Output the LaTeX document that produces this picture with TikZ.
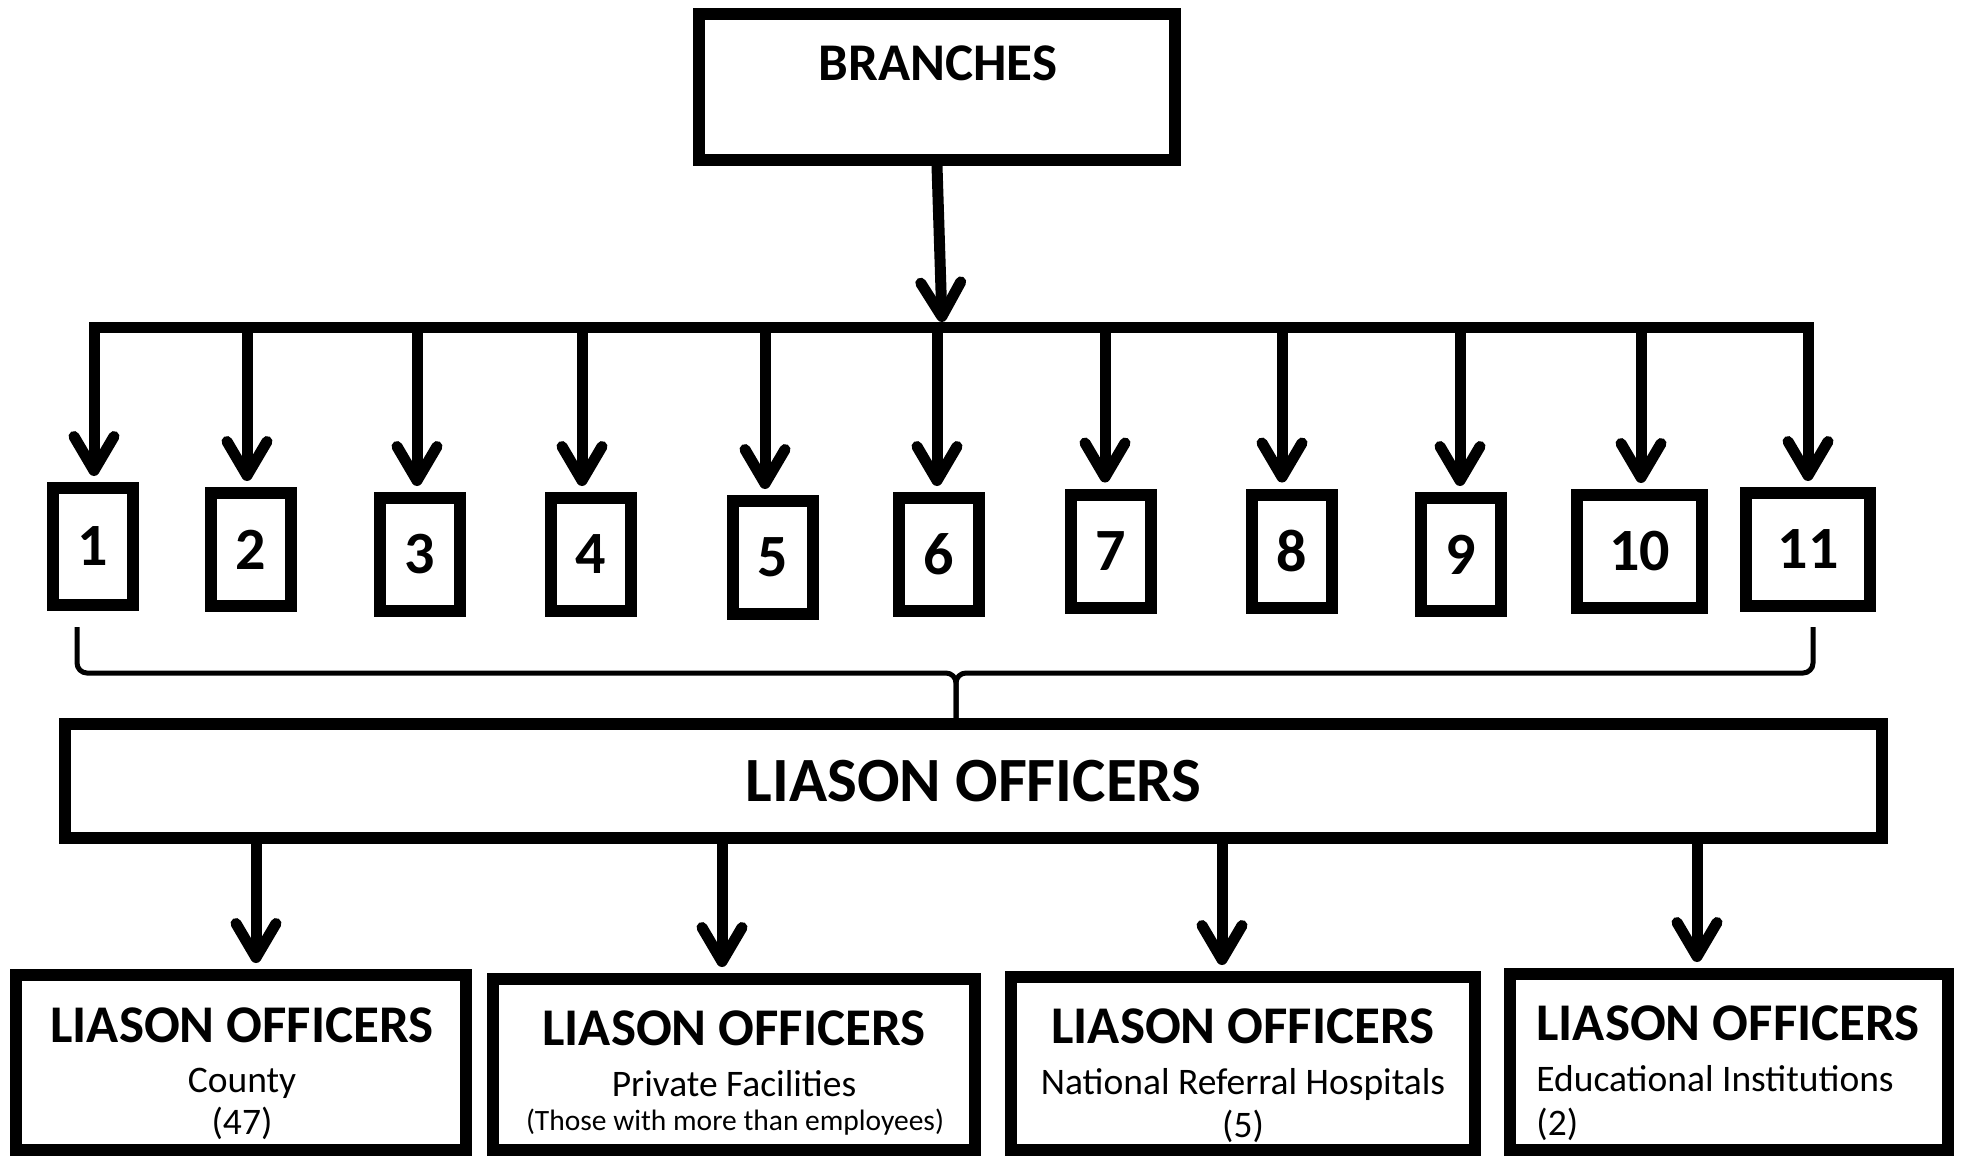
\documentclass[tikz,border=0pt]{standalone}
\usepackage{fontspec}
\setmainfont{Carlito}
\usetikzlibrary{positioning,arrows.meta}

\begin{document}
\begin{tikzpicture}[x=0.5pt,y=-0.5pt,
	tbox/.style={draw,rectangle,line width=6pt,inner sep=0pt},
	arr/.style={line width=5.5pt,shorten >=3pt,-{Straight Barb[length=17pt,width=20pt,round]}},
	headtxt/.style={font=\fontsize{26.5}{30}\selectfont\bfseries,inner sep=0pt,anchor=base},
	subtxt/.style={font=\fontsize{18.75}{22}\selectfont,inner sep=0pt,anchor=base}]
\useasboundingbox (0,0) rectangle (1962,1156);
\node[tbox,minimum width=238pt,minimum height=73pt] (branches) at (937,87) {};
\node[headtxt] (branchestxt) at (938,81) {BRANCHES};
\coordinate (hub) at (942,322);
\draw[arr,shorten >=0pt] (branches.south) -- (hub);
\foreach[count=\c] \x/\y/\w/\h/\a in {93/546.5/40/58.5/94,251/549.5/40/56.5/247,420/554.5/40/56.5/417,591/554.5/40/56.5/582,772.5/557.5/40/56.5/765,939/554.5/40/56.5/937,1111/551/40/56.5/1105,1291.5/551/40/56.5/1282,1461/554.5/40/56.5/1460,1639.5/551.5/62.5/56.5/1641,1808/549.5/62/56.5/1808}
{
	\node[tbox,minimum width=\w pt,minimum height=\h pt,font=\fontsize{30}{34}\selectfont\bfseries] (n\c) at (\x,\y) {\c};
	\coordinate (t\c) at (\a,327);
}
\draw[line width=5.5pt,line cap=rect] (t1)--(t11);
\foreach \c in {1,...,11}
	\draw[arr] (t\c)--(t\c |- n\c.north);
\node[tbox,minimum width=908.5pt,minimum height=57pt,font=\fontsize{31.5}{36}\selectfont\bfseries] (liason) at (973.5,781) {LIASON OFFICERS};
\coordinate (bl) at (77,627);
\coordinate (br) at (1813,627);
\coordinate (bm) at (956,673);
\draw[line width=2.5pt,rounded corners=5pt] (bl)--(bl |- bm)--(bm)--(bm |- liason.north);
\draw[line width=2.5pt,rounded corners=5pt] (br)--(br |- bm)--(bm)--(bm |- liason.north);
\foreach \n/\x/\y/\w/\h/\a in {county/241/1062.5/225/87.5/256,private/734/1064.5/241/85.5/722,national/1243/1063.5/232/86.5/1222,education/1729/1062/219/88/1697}
{
	\node[tbox,minimum width=\w pt,minimum height=\h pt] (\n) at (\x,\y) {};
	\coordinate (q\n) at (\a,0);
	\draw[arr] (liason.south -| q\n)--(\n.north -| q\n);
}
\foreach \n/\x/\y in {county/242/1042,private/734/1045,national/1243/1043,education/1728/1040}
	\node[headtxt] (\n h) at (\x,\y) {LIASON OFFICERS};
\node[subtxt] (countys) at (242,1092) {County};
\node[subtxt] (countyn) at (242,1134) {(47)};
\node[subtxt] (privates) at (734,1096) {Private Facilities};
\node[subtxt,font=\fontsize{14.75}{18}\selectfont] (privaten) at (735,1130) {(Those with more than employees)};
\node[subtxt] (nationals) at (1243,1094) {National Referral Hospitals};
\node[subtxt] (nationaln) at (1243,1137) {(5)};
\node[subtxt,anchor=base west] (educations) at (1536,1091) {Educational Institutions};
\node[subtxt,anchor=base west] (educationn) at (1536,1135) {(2)};
\end{tikzpicture}
\end{document}
